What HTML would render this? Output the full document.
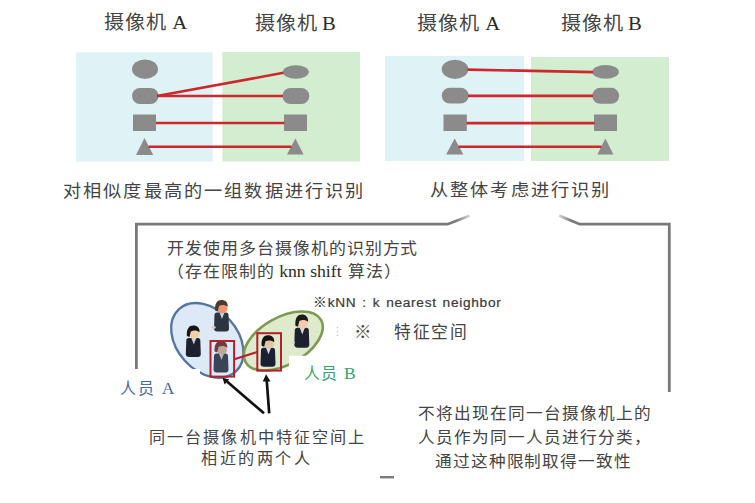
<!DOCTYPE html>
<html lang="zh-CN">
<head>
<meta charset="utf-8">
<style>
html,body{margin:0;padding:0;background:#fff;}
body{width:755px;height:503px;position:relative;overflow:hidden;font-family:"Liberation Serif",serif;color:#444;}
.t{position:absolute;white-space:nowrap;line-height:1;}
.l{font-family:"Liberation Serif",serif;color:#2a2a2a;}
svg{position:absolute;left:0;top:0;}
</style>
</head>
<body>
<svg width="755" height="503" viewBox="0 0 755 503">
  <!-- left group panels -->
  <rect x="76" y="52.3" width="136.7" height="109.3" fill="#dff2f6"/>
  <rect x="222.4" y="52" width="137.6" height="109.5" fill="#d2edcf"/>
  <!-- right group panels -->
  <rect x="385" y="56" width="139" height="105" fill="#dff2f6"/>
  <rect x="531" y="57" width="138" height="104" fill="#d2edcf"/>

  <g fill="#8b8b8b">
    <!-- left group, camera A -->
    <ellipse cx="145" cy="69.2" rx="13" ry="9.7"/>
    <rect x="132" y="88" width="26.5" height="16" rx="8"/>
    <rect x="133" y="114.5" width="23" height="16.5"/>
    <polygon points="144.5,138 136,155 153.2,155"/>
    <!-- left group, camera B -->
    <ellipse cx="295.8" cy="72" rx="13" ry="6.8"/>
    <rect x="282.5" y="88" width="26.8" height="16" rx="8"/>
    <rect x="284" y="114.5" width="23" height="16.5"/>
    <polygon points="295.4,138.4 287,154.6 303.6,154.6"/>
    <!-- right group, camera A -->
    <ellipse cx="455" cy="69.3" rx="13.3" ry="9.6"/>
    <rect x="441.8" y="87.8" width="26.8" height="15.8" rx="8"/>
    <rect x="443.5" y="114.5" width="23.3" height="16.5"/>
    <polygon points="454.6,138.4 446.2,154.6 463.4,154.6"/>
    <!-- right group, camera B -->
    <ellipse cx="605.6" cy="71.9" rx="13.3" ry="6.8"/>
    <rect x="592.3" y="87.8" width="26.9" height="16" rx="8"/>
    <rect x="594" y="114.5" width="23" height="16.5"/>
    <polygon points="605.4,138.4 597.4,154.6 613.4,154.6"/>
  </g>
  <g stroke="#cd282c" stroke-width="2.6" fill="none">
    <line x1="157" y1="96" x2="283.5" y2="72.8"/>
    <line x1="157" y1="96" x2="283" y2="96"/>
    <line x1="156" y1="123" x2="284.5" y2="123"/>
    <line x1="148.5" y1="146.7" x2="291.5" y2="146.7"/>

    <line x1="467.5" y1="69.6" x2="593" y2="72.1"/>
    <line x1="468" y1="95.9" x2="593" y2="95.9"/>
    <line x1="466.5" y1="123.1" x2="594.5" y2="123.1"/>
    <line x1="458.5" y1="146.8" x2="601.5" y2="146.8"/>
  </g>

  <!-- callout box -->
  <defs>
    <linearGradient id="gl" gradientUnits="userSpaceOnUse" x1="456" y1="0" x2="470" y2="0"><stop offset="0" stop-color="#7a7a7a"/><stop offset="1" stop-color="#d8d8d8"/></linearGradient>
    <linearGradient id="gr" gradientUnits="userSpaceOnUse" x1="559" y1="0" x2="571" y2="0"><stop offset="0" stop-color="#d8d8d8"/><stop offset="1" stop-color="#7a7a7a"/></linearGradient>
  </defs>
  <path d="M136.4,369 L136.4,224.2 L447.6,224.2 L469.5,215.7" stroke="url(#gl)" stroke-width="2.8" fill="none" stroke-linejoin="miter"/>
  <path d="M559,215.6 L579.8,224.2 L669.3,224.2 L669.3,392" stroke="url(#gr)" stroke-width="2.8" fill="none" stroke-linejoin="miter"/>
  <g fill="#c4c4c4"><circle cx="337.5" cy="327.5" r="0.8"/><circle cx="337.5" cy="331.5" r="0.8"/><circle cx="337.5" cy="335.5" r="0.8"/></g>
  <rect x="380" y="476" width="14" height="2.4" fill="#7a7a7a"/>

  <!-- ellipses -->
  <ellipse cx="207.3" cy="340.4" rx="42.2" ry="30.3" transform="rotate(47.8 207.3 340.4)" fill="#dde9f6" stroke="#54769e" stroke-width="2.4"/>
  <ellipse cx="283.3" cy="341" rx="43.2" ry="23.7" transform="rotate(-29.25 283.3 341)" fill="#dfe9cc" stroke="#7d9a52" stroke-width="2.6"/>
  <!-- white label covers -->
  <rect x="289" y="355.8" width="80" height="40" fill="#fff"/>
  <rect x="110" y="369" width="90" height="40" fill="#fff"/>

  <defs>
    <g id="pp">
      <path d="M0,15 Q0,12.5 2.5,12.5 L11.5,12.5 Q14,12.5 14,15 L14.5,28.5 Q14.5,31.5 11.5,31.5 L3,31.5 Q-0.5,31.5 -0.5,28.5 Z"/>
    </g>
  </defs>
  <!-- persons -->
  <g transform="translate(214.5,300)">
    <use href="#pp" fill="#2b3441"/>
    <path d="M5,12.5 L7.5,19 L10,12.5 Z" fill="#c9d3de"/>
    <ellipse cx="8" cy="8.5" rx="5" ry="5" fill="#ea9778"/>
    <path d="M0.6,10.5 C0,3 3,0 7,0 C11,0 13.6,2.5 13.3,6.8 C11,5 7.5,4.5 4.5,6 L3.2,11.5 Z" fill="#4b3b31"/>
    <ellipse cx="-0.8" cy="27.3" rx="1.9" ry="1.6" fill="#e9c4aa"/>
  </g>
  <g transform="translate(186.3,325.4)">
    <use href="#pp" fill="#1d2230"/>
    <path d="M5,12.5 L7.5,19 L10,12.5 Z" fill="#c9d3de"/>
    <ellipse cx="8" cy="8.5" rx="5" ry="5" fill="#f5cfa8"/>
    <path d="M0.6,10.5 C0,3 3,0 7,0 C11,0 13.6,2.5 13.3,6.8 C11,5 7.5,4.5 4.5,6 L3.2,11.5 Z" fill="#151515"/>
  </g>
  <g transform="translate(214,341)">
    <use href="#pp" fill="#3b4356"/>
    <path d="M5,12.5 L7.5,19 L10,12.5 Z" fill="#b8bcc4"/>
    <ellipse cx="8" cy="8.5" rx="5" ry="5" fill="#bda898"/>
    <path d="M0.6,10.5 C0,3 3,0 7,0 C11,0 13.6,2.5 13.3,6.8 C11,5 7.5,4.5 4.5,6 L3.2,11.5 Z" fill="#6e3c3e"/>
  </g>
  <g transform="translate(261,335.3)">
    <use href="#pp" fill="#1c2034"/>
    <path d="M5,12.5 L7.5,19 L10,12.5 Z" fill="#d4dbe4"/>
    <ellipse cx="8" cy="8.5" rx="5" ry="5" fill="#e6c2a6"/>
    <path d="M0.6,10.5 C0,3 3,0 7,0 C11,0 13.6,2.5 13.3,6.8 C11,5 7.5,4.5 4.5,6 L3.2,11.5 Z" fill="#141414"/>
  </g>
  <g transform="translate(294.8,314.6) scale(1,1.05)">
    <use href="#pp" fill="#1c2030"/>
    <path d="M5,12.5 L7.5,19 L10,12.5 Z" fill="#d4dbe4"/>
    <ellipse cx="8" cy="8.5" rx="5" ry="5" fill="#f3cbaa"/>
    <path d="M0.6,10.5 C0,3 3,0 7,0 C11,0 13.6,2.5 13.3,6.8 C11,5 7.5,4.5 4.5,6 L3.2,11.5 Z" fill="#1a1a1a"/>
    <ellipse cx="-1.8" cy="26.5" rx="1.9" ry="1.6" fill="#f1d2bc"/>
  </g>

  <!-- red boxes -->
  <g stroke="#b1202b" stroke-width="2" fill="none">
    <rect x="210.5" y="341" width="23.6" height="35.6"/>
    <rect x="257.3" y="333.2" width="23.7" height="37.4"/>
    <line x1="234.3" y1="359.2" x2="257.3" y2="352"/>
  </g>

  <!-- arrows -->
  <g stroke="#111" stroke-width="2.7" fill="none" stroke-linecap="butt">
    <line x1="264" y1="413.3" x2="227" y2="381.5"/>
    <line x1="269.2" y1="413.3" x2="266.7" y2="380"/>
  </g>
  <g fill="#111">
    <polygon points="222.5,377.8 229.2,379.4 224.6,384.6"/>
    <polygon points="266,374.2 262.8,381.6 270.6,381.4"/>
  </g>
</svg>

<!--TEXT-->
<div class="t" style="left:103.70px;top:12.80px;font-size:19px;letter-spacing:0.80px;transform:scaleX(1.06);transform-origin:0 0;">摄像机<span class="l" style="margin-left:5px;font-size:19.5px;letter-spacing:0">A</span></div>
<div class="t" style="left:255.00px;top:13.80px;font-size:19px;letter-spacing:0.80px;transform:scaleX(1.06);transform-origin:0 0;">摄像机<span class="l" style="margin-left:3.8px;font-size:19.5px;letter-spacing:0">B</span></div>
<div class="t" style="left:417.00px;top:13.80px;font-size:19px;letter-spacing:0.80px;transform:scaleX(1.06);transform-origin:0 0;">摄像机<span class="l" style="margin-left:5px;font-size:19.5px;letter-spacing:0">A</span></div>
<div class="t" style="left:561.00px;top:13.80px;font-size:19px;letter-spacing:0.80px;transform:scaleX(1.06);transform-origin:0 0;">摄像机<span class="l" style="margin-left:3.8px;font-size:19.5px;letter-spacing:0">B</span></div>
<div class="t" style="left:62.50px;top:182.55px;font-size:17.2px;letter-spacing:2.01px;transform:scaleX(1.06);transform-origin:0 0;">对相似度最高的一组数据进行识别</div>
<div class="t" style="left:429.80px;top:182.35px;font-size:17.2px;letter-spacing:2.02px;transform:scaleX(1.06);transform-origin:0 0;">从整体考虑进行识别</div>
<div class="t" style="left:167.00px;top:240.60px;font-size:16.3px;letter-spacing:1.27px;transform:scaleX(1.04);transform-origin:0 0;">开发使用多台摄像机的识别方式</div>
<div class="t" style="left:167.00px;top:263.20px;font-size:16.3px;letter-spacing:1.27px;transform:scaleX(1.04);transform-origin:0 0;">（存在限制的<span class="l" style="letter-spacing:0;font-size:17px;margin-right:2.2px"> knn shift </span>算法）</div>
<div class="t" style="left:313.00px;top:296.00px;font-size:13.7px;letter-spacing:0.70px;word-spacing:1.4px;font-family:'Liberation Sans',sans-serif;color:#3a3a3a;-webkit-text-stroke:0.22px #3a3a3a;">※kNN : k nearest neighbor</div>
<div class="t" style="left:354.00px;top:323.50px;font-size:17.5px;letter-spacing:0.00px;color:#444;">※</div>
<div class="t" style="left:394.40px;top:324.80px;font-size:16.8px;letter-spacing:1.43px;">特征空间</div>
<div class="t" style="left:120.30px;top:379.80px;font-size:16px;letter-spacing:1.50px;color:#4a6c9a;">人员<span class="l" style="margin-left:6.5px;font-size:17.5px;letter-spacing:0;color:inherit">A</span></div>
<div class="t" style="left:303.50px;top:365.20px;font-size:16px;letter-spacing:1.50px;color:#36a46a;">人员<span class="l" style="margin-left:5.5px;font-size:17.5px;letter-spacing:0;color:inherit">B</span></div>
<div class="t" style="left:148.50px;top:429.70px;font-size:15.5px;letter-spacing:1.41px;transform:scaleX(1.04);transform-origin:0 0;">同一台摄像机中特征空间上</div>
<div class="t" style="left:200.80px;top:451.45px;font-size:15.5px;letter-spacing:1.79px;transform:scaleX(1.04);transform-origin:0 0;">相近的两个人</div>
<div class="t" style="left:417.50px;top:405.80px;font-size:16px;letter-spacing:1.32px;transform:scaleX(1.04);transform-origin:0 0;">不将出现在同一台摄像机上的</div>
<div class="t" style="left:417.50px;top:429.60px;font-size:16px;letter-spacing:1.32px;transform:scaleX(1.04);transform-origin:0 0;">人员作为同一人员进行分类，</div>
<div class="t" style="left:434.90px;top:453.60px;font-size:16px;letter-spacing:1.21px;transform:scaleX(1.04);transform-origin:0 0;">通过这种限制取得一致性</div>
<!--/TEXT-->
</body>
</html>
